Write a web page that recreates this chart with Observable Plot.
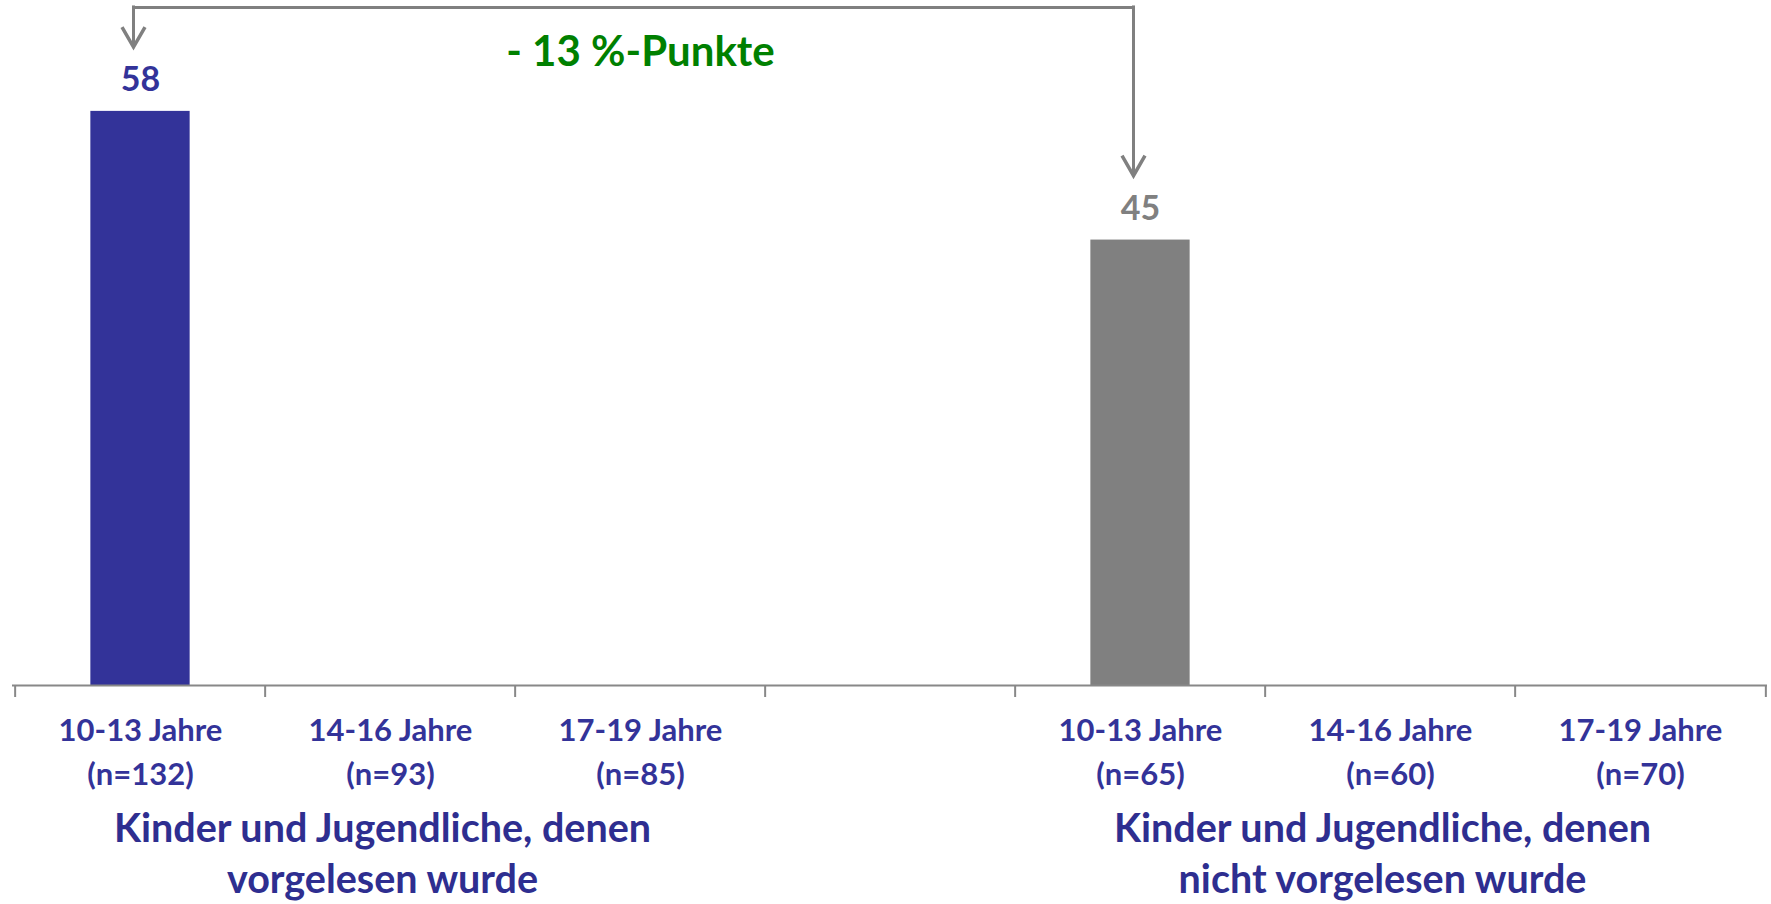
<!DOCTYPE html>
<html>
<head>
<meta charset="utf-8">
<script src="https://cdn.jsdelivr.net/npm/d3@7"></script>
<script src="https://cdn.jsdelivr.net/npm/@observablehq/plot@0.6"></script>
<style>
  html, body { margin: 0; padding: 0; background: #fff; }
  svg { display: block; }
</style>
</head>
<body>
<div id="chart"></div>
<script>
// ---- data ----
const ageLabels = ["10-13 Jahre", "14-16 Jahre", "17-19 Jahre"];
const nRead = [132, 93, 85];          // vorgelesen
const nNotRead = [65, 60, 70];        // nicht vorgelesen
const valuesRead = [58, null, null];
const valuesNotRead = [45, null, null];
const groupLabels = [
  "Kinder und Jugendliche, denen\nvorgelesen wurde",
  "Kinder und Jugendliche, denen\nnicht vorgelesen wurde"
];
const diffLabel = "- 13 %-Punkte";

// ---- build table ----
const blue = "#333399", gray = "#808080";
const cats = [];
ageLabels.forEach((a, i) => cats.push({key: "r" + i, label: `${a}\n(n=${nRead[i]})`, value: valuesRead[i], color: blue}));
cats.push({key: "gap", label: "", value: null, color: blue});
ageLabels.forEach((a, i) => cats.push({key: "n" + i, label: `${a}\n(n=${nNotRead[i]})`, value: valuesNotRead[i], color: gray}));
const domain = cats.map(d => d.key);
const bars = cats.filter(d => d.value != null);
const groups = [{key: "r1", text: groupLabels[0]}, {key: "n1", text: groupLabels[1]}];

const W = 1771, H = 904, mL = 12, mR = 4, mT = 2, mB = 219;
const yMax = 69;
const step = (W - mL - mR) / domain.length;
const k = (H - mT - mB) / yMax;          // px per unit
const arrowTop = 68.5;
const tipOffset = 6.5;

const chevron = {
  draw(context, size) {
    const r = Math.sqrt(size / Math.PI);
    const w = r * 0.575;
    context.moveTo(-w, -r);
    context.lineTo(0, 0);
    context.lineTo(w, -r);
  }
};

const font = "Lato, 'Open Sans', sans-serif";
const tickFs = 31, groupFs = 39.5;

const plot = Plot.plot({
  width: W, height: H,
  marginLeft: mL, marginRight: mR, marginTop: mT, marginBottom: mB,
  style: {fontFamily: font, background: "#fff", overflow: "visible"},
  x: {type: "band", domain, padding: 0, axis: null},
  y: {domain: [0, yMax], axis: null},
  marks: [
    Plot.barY(bars, {x: "key", y: "value", fill: "color", insetLeft: (step - 100) / 2, insetRight: (step - 100) / 2}),
    Plot.ruleY([0], {stroke: "#888888", strokeWidth: 2}),
    Plot.ruleX(domain, {x: d => d, y1: 0, y2: -12 / k, dx: -step / 2, stroke: "#888888", strokeWidth: 2}),
    Plot.ruleX([domain[domain.length - 1]], {x: d => d, y1: 0, y2: -12 / k, dx: step / 2, stroke: "#888888", strokeWidth: 2}),
    Plot.text(cats, {x: "key", y: 0, text: "label", lineAnchor: "bottom", dy: 99, fontSize: tickFs, lineHeight: 44 / tickFs, fontWeight: "bold", fill: blue}),
    Plot.text(groups, {x: "key", y: 0, text: "text", lineAnchor: "bottom", dy: 207, dx: -8, fontSize: groupFs, lineHeight: 51 / groupFs, fontWeight: "bold", fill: "#2e2e90"}),
    Plot.text(bars, {x: "key", y: "value", text: d => String(d.value), lineAnchor: "bottom", dy: -20, fontSize: 34, fontWeight: "bold", fill: "color"}),
    // arrow annotation
    Plot.link([{a: bars[0].key, b: bars[1].key}], {x1: "a", x2: "b", y1: arrowTop, y2: arrowTop, dx: -7, stroke: gray, strokeWidth: 3, strokeLinecap: "square"}),
    Plot.ruleX(bars, {x: "key", y1: arrowTop, y2: d => d.value + tipOffset, dx: -7, stroke: gray, strokeWidth: 3, strokeLinecap: "square"}),
    Plot.dot(bars, {x: "key", y: d => d.value + tipOffset, dx: -7, r: 20, symbol: chevron, fill: "none", stroke: gray, strokeWidth: 3.5}),
    Plot.text([diffLabel], {x: () => "r2", frameAnchor: "top", text: d => d, lineAnchor: "middle", dy: 50, fontSize: 42, fontWeight: "bold", fill: "#008000"})
  ]
});
document.getElementById("chart").appendChild(plot);
</script>
</body>
</html>
